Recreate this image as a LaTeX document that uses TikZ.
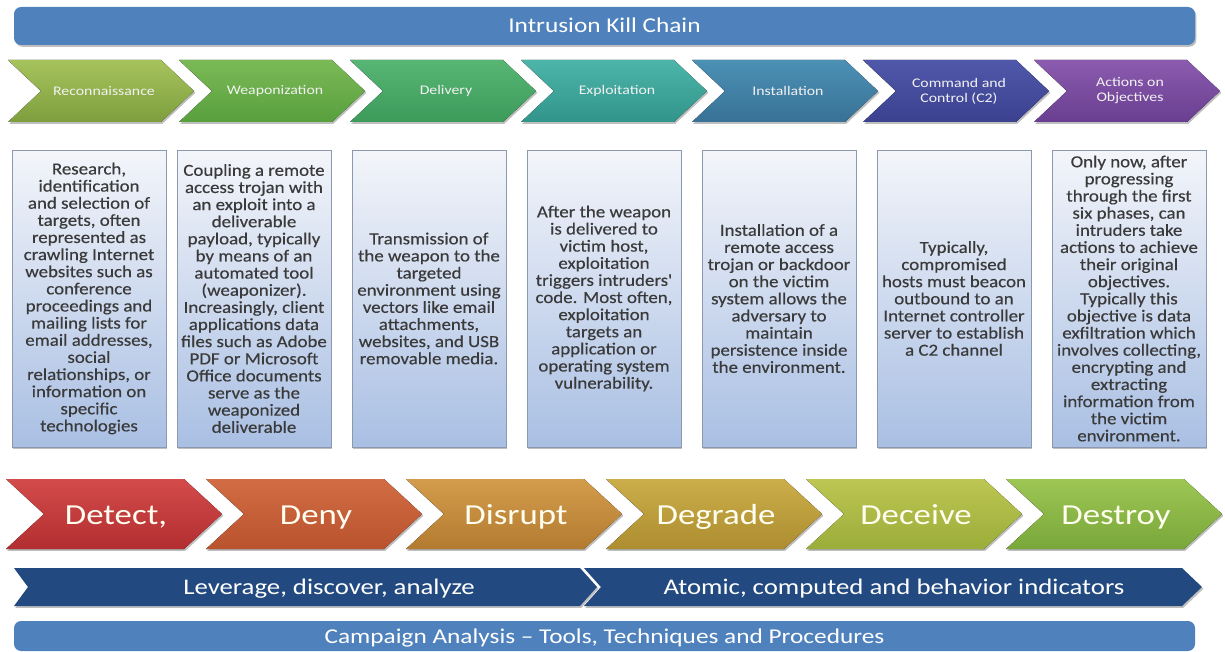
\documentclass[tikz,border=0pt]{standalone}
\usepackage{fontspec}
\setmainfont{Carlito}
\newfontfamily\widefont[FakeStretch=1.2]{Carlito}
\newfontfamily\boxfont[FakeStretch=1.12, FakeBold=0.4]{Carlito}
\usetikzlibrary{shadows}

% colours of the kill-chain phases (top / bottom of each gradient)
\definecolor{barblue}{HTML}{4F81BD}
\definecolor{navy}{HTML}{234A80}
\definecolor{boxtop}{HTML}{F3F5FA}
\definecolor{boxbot}{HTML}{A9BFE3}
\definecolor{boxline}{HTML}{8C98AE}
\definecolor{boxtext}{HTML}{3A3A3A}
\definecolor{reconT}{HTML}{A6C35C}\definecolor{reconB}{HTML}{7E9E3E}
\definecolor{weapT}{HTML}{7BBA56}\definecolor{weapB}{HTML}{589F3E}
\definecolor{delivT}{HTML}{58B675}\definecolor{delivB}{HTML}{3C9A5A}
\definecolor{exploT}{HTML}{4DB5AA}\definecolor{exploB}{HTML}{31948B}
\definecolor{instT}{HTML}{4C90B5}\definecolor{instB}{HTML}{387296}
\definecolor{ccT}{HTML}{5058AA}\definecolor{ccB}{HTML}{3B418F}
\definecolor{actT}{HTML}{8B5BAF}\definecolor{actB}{HTML}{693E90}
\definecolor{detT}{HTML}{D44B4B}\definecolor{detB}{HTML}{B22E30}
\definecolor{denT}{HTML}{D26C44}\definecolor{denB}{HTML}{B8532E}
\definecolor{disT}{HTML}{D39C4C}\definecolor{disB}{HTML}{B37B30}
\definecolor{degT}{HTML}{CBAE4A}\definecolor{degB}{HTML}{AD8D30}
\definecolor{decT}{HTML}{BDC652}\definecolor{decB}{HTML}{9BAD3A}
\definecolor{desT}{HTML}{9DC654}\definecolor{desB}{HTML}{79A73A}

% chevron: left x, top y, width, height, point depth, fill options
\newcommand{\chevshape}[6]{%
  \fill[#6] (#1,#2) -- ({#1+#3-#5},#2) -- ({#1+#3},{#2+#4/2})
    -- ({#1+#3-#5},{#2+#4}) -- (#1,{#2+#4}) -- ({#1+#5},{#2+#4/2}) -- cycle;}

\tikzset{
  softshadow/.style={drop shadow={shadow xshift=0.8pt, shadow yshift=-1pt, opacity=0.25, fill=black}},
  bartext/.style={text=white, anchor=base, font={\widefont\fontsize{12}{14}\selectfont}},
  phaselabel/.style={text=white!90!gray, align=center,
    font={\widefont\fontsize{7.5}{8.6}\selectfont}},
  descbox/.style={draw=boxline, line width=0.5pt, top color=boxtop, bottom color=boxbot,
    minimum width=3.08cm, minimum height=5.94cm, inner sep=0pt, align=center,
    text=boxtext, softshadow, font={\boxfont\fontsize{9.6}{9.75}\selectfont}},
  actionlabel/.style={text=white!94!yellow, anchor=base, font={\widefont\fontsize{16.5}{18}\selectfont}},
  bandlabel/.style={text=white, anchor=base, font={\widefont\fontsize{12.7}{14}\selectfont}},
}

\begin{document}
\begin{tikzpicture}[x=0.02cm, y=-0.02cm]
\useasboundingbox (0,0) rectangle (1225,652);

% title bar
\fill[barblue, rounded corners=4pt, softshadow] (14,7) rectangle (1195,45);
\node[bartext] (title) at (604.5,33) {Intrusion Kill Chain};

% the seven phases of the chain
\foreach \i/\ct/\cb/\lbl in {0/reconT/reconB/{Reconnaissance},
    1/weapT/weapB/{Weaponization}, 2/delivT/delivB/{Delivery},
    3/exploT/exploB/{Exploitation}, 4/instT/instB/{Installation},
    5/ccT/ccB/{Command and\\Control (C2)}, 6/actT/actB/{Actions on\\Objectives}}{
  \pgfmathsetmacro\L{8+171*\i}
  \chevshape{\L}{60}{186}{62}{33}{top color=\ct, bottom color=\cb, softshadow}
  \node[phaselabel] (phase\i) at (\L+96,91) {\lbl};
}

% descriptions of the phases
\node[descbox] (desc0) at (89,298.5) {Research,\\identification\\and selection of\\targets, often\\represented as\\crawling Internet\\websites such as\\conference\\proceedings and\\mailing lists for\\email addresses,\\social\\relationships, or\\information on\\specific\\technologies};
\node[descbox] (desc1) at (254,298.5) {Coupling a remote\\access trojan with\\an exploit into a\\deliverable\\payload, typically\\by means of an\\automated tool\\(weaponizer).\\Increasingly, client\\applications data\\files such as Adobe\\PDF or Microsoft\\Office documents\\serve as the\\weaponized\\deliverable};
\node[descbox] (desc2) at (429,298.5) {Transmission of\\the weapon to the\\targeted\\environment using\\vectors like email\\attachments,\\websites, and USB\\removable media.};
\node[descbox] (desc3) at (604,298.5) {After the weapon\\is delivered to\\victim host,\\exploitation\\triggers intruders'\\code. Most often,\\exploitation\\targets an\\application or\\operating system\\vulnerability.};
\node[descbox] (desc4) at (779,298.5) {Installation of a\\remote access\\trojan or backdoor\\on the victim\\system allows the\\adversary to\\maintain\\persistence inside\\the environment.};
\node[descbox] (desc5) at (954,298.5) {Typically,\\compromised\\hosts must beacon\\outbound to an\\Internet controller\\server to establish\\a C2 channel};
\node[descbox] (desc6) at (1129,298.5) {Only now, after\\progressing\\through the first\\six phases, can\\intruders take\\actions to achieve\\their original\\objectives.\\Typically this\\objective is data\\exfiltration which\\involves collecting,\\encrypting and\\extracting\\information from\\the victim\\environment.};

% courses of action
\foreach \i/\ct/\cb/\lbl in {0/detT/detB/{Detect,}, 1/denT/denB/{Deny},
    2/disT/disB/{Disrupt}, 3/degT/degB/{Degrade}, 4/decT/decB/{Deceive},
    5/desT/desB/{Destroy}}{
  \pgfmathsetmacro\L{6+200*\i}
  \chevshape{\L}{479}{216}{70}{38}{top color=\ct, bottom color=\cb, softshadow}
  \node[actionlabel] (action\i) at (\L+110,524) {\lbl};
}

% indicator band
\fill[navy, softshadow] (14,568) -- (580,568) -- (597,587) -- (580,606) -- (14,606) -- (28,587) -- cycle;
\fill[navy, softshadow] (584,568) -- (1182,568) -- (1202,587) -- (1182,606) -- (584,606) -- (601,587) -- cycle;
\node[bandlabel] (leverage) at (329,594) {Leverage, discover, analyze};
\node[bandlabel] (indicators) at (894,594) {Atomic, computed and behavior indicators};

% campaign bar
\fill[barblue, rounded corners=4pt] (14,621) rectangle (1195,651);
\node[bartext] (campaign) at (604.5,643) {Campaign Analysis – Tools, Techniques and Procedures};
\end{tikzpicture}
\end{document}
